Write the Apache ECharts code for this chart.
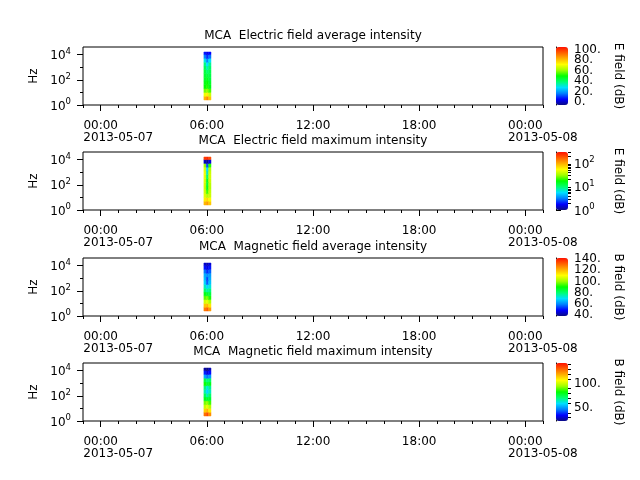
<!DOCTYPE html>
<html>
<head>
<meta charset="utf-8">
<script src="https://cdn.jsdelivr.net/npm/echarts@6/dist/echarts.min.js"></script>
<style>
html, body { margin: 0; padding: 0; background: #fff; }
#main { width: 640px; height: 480px; }
</style>
</head>
<body>
<div id="main"></div>
<script>
// ---- data ----
var titles = ['MCA  Electric field average intensity', 'MCA  Electric field maximum intensity',
              'MCA  Magnetic field average intensity', 'MCA  Magnetic field maximum intensity'];
var cbarNames = ['E field (dB)', 'E field (dB)', 'B field (dB)', 'B field (dB)'];

// time bin edges (UTC) and frequency bin edges (Hz)
var timeEdges = [Date.UTC(2013, 4, 7, 5, 50), Date.UTC(2013, 4, 7, 5, 58), Date.UTC(2013, 4, 7, 6, 6), Date.UTC(2013, 4, 7, 6, 14)];
var freqEdges = [2.5, 5, 10, 20, 40, 80, 160, 320, 640, 1250, 2500, 5000, 10000, 16000];

// rows: frequency bin (low -> high), columns: time bin
var eAvg = [
  [82, 88, 80], [70, 74, 66], [58, 60, 55], [50, 52, 48], [48, 50, 46], [46, 47, 44], [45, 44, 43],
  [44, 40, 42], [42, 34, 40], [38, 28, 36], [30, 18, 28], [18, 10, 16], [8, 4, 6]
];
var eMax = [
  [90, 110, 80], [60, 70, 55], [45, 35, 40], [42, 22, 38], [40, 15, 35], [42, 13, 36], [45, 14, 40],
  [48, 10, 42], [50, 7, 40], [45, 5.5, 35], [30, 2.5, 20], [1.3, 1.1, 1.5], [220, 260, 200]
];
var bAvg = [
  [128, 132, 124], [118, 120, 114], [106, 108, 102], [96, 98, 92], [88, 86, 84], [80, 76, 78], [74, 68, 72],
  [68, 56, 66], [66, 54, 64], [64, 60, 62], [58, 52, 56], [50, 46, 50], [44, 42, 45]
];
var bMax = [
  [128, 134, 124], [114, 118, 110], [100, 104, 98], [92, 94, 88], [80, 78, 78], [74, 66, 72], [66, 58, 64],
  [70, 62, 68], [84, 78, 80], [76, 70, 72], [52, 46, 50], [38, 32, 36], [26, 22, 28]
];
var panels = [eAvg, eMax, bAvg, bMax];

// x axis ticks / labels
var xMin = Date.UTC(2013, 4, 6, 23), xMax = Date.UTC(2013, 4, 8, 1);
var xMajorTicks = [Date.UTC(2013, 4, 7, 0), Date.UTC(2013, 4, 7, 6), Date.UTC(2013, 4, 7, 12), Date.UTC(2013, 4, 7, 18), Date.UTC(2013, 4, 8, 0)];
var xTimeLabels = ['00:00', '06:00', '12:00', '18:00', '00:00'];
var xDateLabels = ['2013-05-07', '', '', '', '2013-05-08'];

// y axis ticks
var yMajorTicks = [1, 100, 10000];
var yMinorTicks = [10, 1000];

// colour bars: range, labelled ticks, minor ticks, log or not
var cbarMin = [-5, 1, 38, 23];
var cbarMax = [105, 300, 142, 143];
var cbarMajor = [[0, 20, 40, 60, 80, 100], [1, 10, 100], [40, 60, 80, 100, 120, 140], [50, 100]];
var cbarMinor = [[], [2, 3, 4, 5, 6, 7, 8, 9, 20, 30, 40, 50, 60, 70, 80, 90, 200, 300], [], [30, 40, 60, 70, 80, 90, 110, 120, 130, 140]];
var cbarLog = [false, true, false, false];

var cmapColours = ['#0a0a86', '#0000ff', '#0080ff', '#00e0ff', '#00ff70', '#00ff00', '#a0ff00', '#ffff00', '#ffb000', '#ff6000', '#ff1000'];

// ---- layout ----
var panelTops = [47, 152, 258, 363];
var panelH = 58;
var FONT = 'DejaVu Sans';

var chart = echarts.init(document.getElementById('main'));

function sup(v) {
  var e = Math.round(Math.log10(v));
  return '{b|10}{s|' + e + '}';
}
function supRich() {
  return {
    b: { fontSize: 12, fontFamily: FONT, color: '#000', verticalAlign: 'bottom' },
    s: { fontSize: 8.5, fontFamily: FONT, color: '#000', verticalAlign: 'bottom', padding: [0, 0, 6, 0] }
  };
}
function dotted(v) { return v + '.'; }

function cells(matrix, logColour) {
  var out = [];
  for (var r = 0; r < matrix.length; r++) {
    for (var c = 0; c < matrix[r].length; c++) {
      var v = matrix[r][c];
      out.push([timeEdges[c], timeEdges[c + 1], freqEdges[r], freqEdges[r + 1], v, logColour ? Math.log10(v) : v]);
    }
  }
  return out;
}

function renderCell(params, api) {
  var a = api.coord([api.value(0), api.value(3)]);
  var b = api.coord([api.value(1), api.value(2)]);
  var col = api.visual('color');
  return {
    type: 'rect',
    shape: { x: a[0], y: a[1], width: b[0] - a[0], height: b[1] - a[1] },
    style: { fill: col, stroke: col, lineWidth: 0.5 }
  };
}

function xLabel(v) {
  var i = xMajorTicks.indexOf(v);
  if (i < 0) return '';
  if (xDateLabels[i]) {
    return '{s| }{t|' + xTimeLabels[i] + '}{s| }\n{s| }{d|' + xDateLabels[i] + '}';
  }
  return '{t|' + xTimeLabels[i] + '}';
}

var gridMain = [], gridCb = [], series = [], visualMap = [], title = [];
var xMain = [], xMaj = [], xCb = [], yMain = [], yMin = [], yCb = [], yCbExtra = [];

for (var i = 0; i < 4; i++) {
  var pTop = panelTops[i];
  gridMain.push({ left: 83, top: pTop, width: 460, height: panelH, show: true, borderColor: '#000', borderWidth: 1, outerBoundsMode: 'none' });
  title.push({
    text: titles[i], left: 313, top: pTop - 17, textAlign: 'center', padding: 0,
    textStyle: { fontSize: 12, fontWeight: 'normal', color: '#000', fontFamily: FONT }
  });

  xMain.push({
    gridIndex: i, type: 'value', position: 'bottom', min: xMin, max: xMax, interval: 3600000,
    axisLine: { show: false }, splitLine: { show: false },
    axisTick: { show: true, length: 3, lineStyle: { color: '#000' } },
    axisLabel: {
      customValues: xMajorTicks, formatter: xLabel, margin: 15, color: '#000',
      fontSize: 12, fontFamily: FONT,
      rich: {
        s: { width: 35, fontSize: 12, fontFamily: FONT },
        t: { width: 35, align: 'center', fontSize: 12, fontFamily: FONT, color: '#000' },
        d: { width: 70, align: 'left', fontSize: 12, fontFamily: FONT, color: '#000' }
      }
    }
  });
  xMaj.push({
    gridIndex: i, type: 'value', position: 'bottom', min: xMin, max: xMax,
    axisLine: { show: false }, splitLine: { show: false }, axisLabel: { show: false },
    axisTick: { show: true, length: 6, customValues: xMajorTicks, lineStyle: { color: '#000' } }
  });

  yMain.push({
    gridIndex: i, type: 'log', position: 'left', min: 1, max: 40000,
    name: 'Hz', nameLocation: 'middle', nameGap: 40,
    nameTextStyle: { fontSize: 12, fontFamily: FONT, color: '#000' },
    axisLine: { show: false }, splitLine: { show: false },
    axisTick: { show: true, length: 6, customValues: yMajorTicks, lineStyle: { color: '#000' } },
    axisLabel: { customValues: yMajorTicks, formatter: sup, margin: 12, rich: supRich(), showMinLabel: true, showMaxLabel: true }
  });
  yMin.push({
    gridIndex: i, type: 'log', position: 'left', min: 1, max: 40000,
    axisLine: { show: false }, splitLine: { show: false }, axisLabel: { show: false },
    axisTick: { show: true, length: 3, customValues: yMinorTicks, lineStyle: { color: '#000' } }
  });

  // colour bar grid: one axis for line, ticks and name
  gridCb.push({ left: 556, top: pTop, width: 12, height: panelH, show: false, outerBoundsMode: 'none' });
  xCb.push({ gridIndex: 4 + i, type: 'value', show: false, min: 0, max: 1 });
  yCb.push({
    gridIndex: 4 + i, type: cbarLog[i] ? 'log' : 'value', position: 'right',
    min: cbarMin[i], max: cbarMax[i],
    name: cbarNames[i], nameLocation: 'middle', nameRotate: -90, nameGap: 44,
    nameTextStyle: { fontSize: 12, fontFamily: FONT, color: '#000' },
    axisLine: { show: true, lineStyle: { color: '#000', width: 1 } }, splitLine: { show: false },
    axisTick: { show: true, length: 5, customValues: cbarMajor[i], lineStyle: { color: '#000' } },
    axisLabel: { show: false }
  });
  if (cbarMinor[i].length) {
    yCbExtra.push({
      gridIndex: 4 + i, type: cbarLog[i] ? 'log' : 'value', position: 'right',
      min: cbarMin[i], max: cbarMax[i],
      axisLine: { show: false }, splitLine: { show: false }, axisLabel: { show: false },
      axisTick: { show: true, length: 3, customValues: cbarMinor[i], lineStyle: { color: '#000' } }
    });
  }
  // one label per axis so the closely spaced colour-bar labels are never dropped
  cbarMajor[i].forEach(function (val) {
    yCbExtra.push({
      gridIndex: 4 + i, type: cbarLog[i] ? 'log' : 'value', position: 'right',
      min: cbarMin[i], max: cbarMax[i],
      axisLine: { show: false }, splitLine: { show: false }, axisTick: { show: false },
      axisLabel: {
        customValues: [val], margin: 6, color: '#000', fontSize: 12, fontFamily: FONT,
        formatter: cbarLog[i] ? sup : dotted,
        showMinLabel: true, showMaxLabel: true,
        rich: supRich()
      }
    });
  });

  series.push({
    type: 'custom', xAxisIndex: i, yAxisIndex: i,
    renderItem: renderCell,
    encode: { x: [0, 1], y: [2, 3] },
    data: cells(panels[i], cbarLog[i]),
    silent: true
  });

  visualMap.push({
    type: 'continuous', seriesIndex: i, dimension: 5,
    min: cbarLog[i] ? Math.log10(cbarMin[i]) : cbarMin[i],
    max: cbarLog[i] ? Math.log10(cbarMax[i]) : cbarMax[i],
    inRange: { color: cmapColours },
    left: 556, top: pTop, itemWidth: 12, itemHeight: panelH,
    padding: 0, calculable: false, hoverLink: false, orient: 'vertical'
  });
}

chart.setOption({
  animation: false,
  backgroundColor: '#fff',
  title: title,
  grid: gridMain.concat(gridCb),
  xAxis: xMain.concat(xMaj, xCb),
  yAxis: yMain.concat(yMin, yCb, yCbExtra),
  visualMap: visualMap,
  series: series
});
</script>
</body>
</html>
